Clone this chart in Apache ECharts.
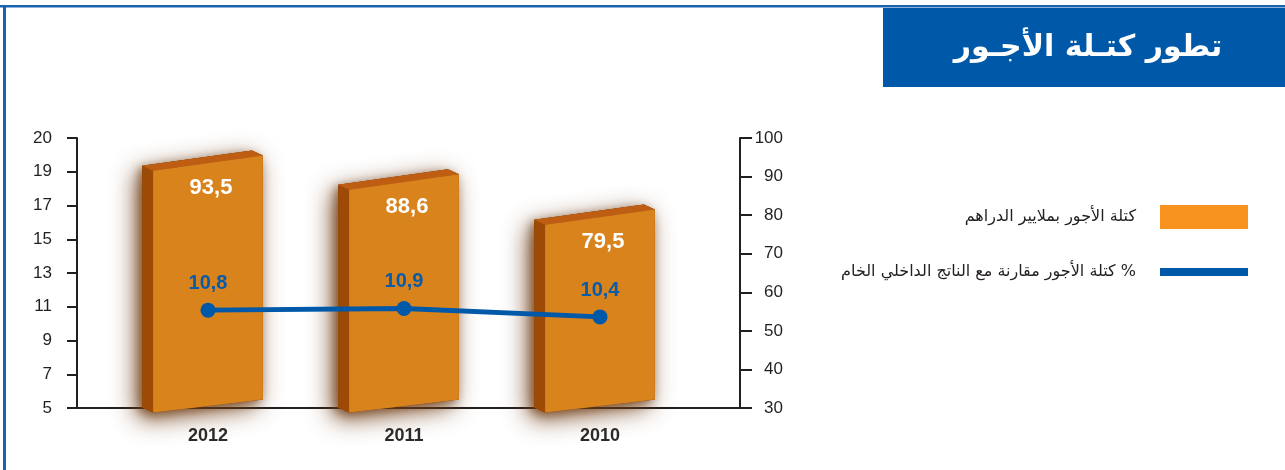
<!DOCTYPE html>
<html><head><meta charset="utf-8">
<script src="https://cdn.jsdelivr.net/npm/echarts@6/dist/echarts.min.js"></script>
<style>html,body{margin:0;padding:0;background:#fff}#c{width:1285px;height:470px}</style>
</head><body><div id="c"></div>
<script>
const titleText = 'تطور كتـلة الأجـور';
const years = ['2012', '2011', '2010'];
const wageBill = [93.5, 88.6, 79.5];            // right axis, bars
const wageShare = [10.8, 10.9, 10.4];           // left axis, line
const leftTickLabels = ['5', '7', '9', '11', '13', '15', '17', '19', '20'];
const barName = 'كتلة الأجور بملايير الدراهم';
const lineName = 'كتلة الأجور مقارنة مع الناتج الداخلي الخام %';

const comma = v => String(v).replace('.', ',');
const axisColor = '#231F20';
const numFont = '"Liberation Sans", Arial, sans-serif';

const chart = echarts.init(document.getElementById('c'));

function renderBar(params, api) {
  const idx = api.value(0), val = api.value(1);
  const top = api.coord([idx, val]);
  const base = api.coord([idx, 30]);
  const band = api.size([1, 0])[0];
  const hw = band * 0.28;
  const sk = hw * 0.14;
  const dx = -11, dy = -5;
  const cx = top[0], ty = top[1], by = base[1] - 2;
  const FL = [cx - hw, ty + sk], FR = [cx + hw, ty - sk];
  const BR = [cx + hw, by - sk * 0.85], BL = [cx - hw, by + sk * 0.85];
  const mv = p => [p[0] + dx, p[1] + dy];
  return {
    type: 'group',
    children: [
      { type: 'polygon', shape: { points: [mv(FL), mv(FR), FR, BR, BL, mv(BL)] },
        style: { fill: '#8a4e1c', shadowBlur: 24, shadowColor: 'rgba(110,60,20,0.85)', shadowOffsetX: -6, shadowOffsetY: 7 } },
      { type: 'polygon', shape: { points: [mv(FL), mv(FR), FR, BR, BL, mv(BL)] },
        style: { fill: '#8a4e1c', shadowBlur: 10, shadowColor: 'rgba(110,60,20,0.6)', shadowOffsetX: -3, shadowOffsetY: 3 } },
      { type: 'polygon', shape: { points: [FL, mv(FL), mv(BL), BL] }, style: { fill: '#9C4A06' } },
      { type: 'polygon', shape: { points: [FL, FR, mv(FR), mv(FL)] }, style: { fill: '#BF5E12' } },
      { type: 'polygon', shape: { points: [FL, FR, BR, BL] }, style: { fill: '#D9831D' } },
      { type: 'text', x: cx + 3, y: ty + 25,
        style: { text: comma(val), fill: '#fff', font: 'bold 22px ' + numFont, align: 'center', verticalAlign: 'middle' } }
    ]
  };
}

chart.setOption({
  animation: false,
  backgroundColor: '#fff',
  grid: [
    { left: 110, width: 588, top: 138, height: 270 },
    { left: 77, right: 545, top: 138, height: 270 }
  ],
  xAxis: [
    { type: 'category', gridIndex: 0, data: years,
      axisLine: { show: false }, axisTick: { show: false },
      axisLabel: { margin: 19, color: '#2b2b2b', fontSize: 18, fontWeight: 'bold', fontFamily: numFont } },
    { type: 'value', gridIndex: 1, min: 0, max: 1,
      axisLine: { show: true, lineStyle: { color: axisColor, width: 2 } },
      axisTick: { show: false }, axisLabel: { show: false }, splitLine: { show: false } }
  ],
  yAxis: [
    { type: 'value', gridIndex: 0, position: 'left', offset: 33, min: 5, max: 21, interval: 2,
      axisLine: { show: true, lineStyle: { color: axisColor, width: 2 } },
      axisTick: { show: true, length: 10, lineStyle: { color: axisColor, width: 2 } },
      axisLabel: { margin: 25, color: axisColor, fontSize: 17, fontFamily: numFont,
        formatter: (v, i) => leftTickLabels[i] },
      splitLine: { show: false } },
    { type: 'value', gridIndex: 0, position: 'right', offset: 42, min: 30, max: 100, interval: 10,
      axisLine: { show: true, lineStyle: { color: axisColor, width: 2 } },
      axisTick: { show: true, length: 12, lineStyle: { color: axisColor, width: 2 } },
      axisLabel: { margin: 43, align: 'right', color: axisColor, fontSize: 17, fontFamily: numFont },
      splitLine: { show: false } },
    { type: 'value', gridIndex: 1, show: false }
  ],
  legend: {
    orient: 'vertical', right: 37, top: 205, align: 'right', padding: 0,
    itemWidth: 88, itemHeight: 24, itemGap: 31, selectedMode: false,
    textStyle: { fontFamily: '"DejaVu Sans", sans-serif', fontSize: 16, color: '#231F20', lineHeight: 24, padding: [0, 19, 0, 0] },
    data: [
      { name: barName, icon: 'rect', itemStyle: { color: '#F7931E', borderWidth: 0 } },
      { name: lineName, icon: 'path://M0,0H88V8H0Z', itemStyle: { color: '#0058A8', borderWidth: 0 } }
    ]
  },
  series: [
    { name: barName, type: 'custom', xAxisIndex: 0, yAxisIndex: 1,
      itemStyle: { color: '#F7931E' },
      renderItem: renderBar,
      data: wageBill.map((v, i) => [i, v]), z: 2 },
    { name: lineName, type: 'line', xAxisIndex: 0, yAxisIndex: 0,
      data: wageShare, z: 5,
      symbol: 'circle', symbolSize: 15,
      lineStyle: { color: '#0058A8', width: 5 },
      itemStyle: { color: '#0058A8' },
      label: { show: true, position: 'top', distance: 9, color: '#0A5BAA', fontSize: 20, fontWeight: 'bold',
        fontFamily: numFont, formatter: p => comma(p.value) } }
  ],
  graphic: [
    { type: 'rect', shape: { x: 0, y: 5, width: 1285, height: 2.5 }, style: { fill: '#1A62AE' }, silent: true },
    { type: 'rect', shape: { x: 3, y: 5, width: 3, height: 465 }, style: { fill: '#1A62AE' }, silent: true },
    { type: 'rect', shape: { x: 883, y: 8, width: 402, height: 79 }, style: { fill: '#0058A8' }, silent: true },
    { type: 'text', x: 1088, y: 48, silent: true,
      style: { text: titleText, fill: '#fff', font: 'bold 30px "DejaVu Sans", sans-serif', align: 'center', verticalAlign: 'middle' } }
  ]
});
</script></body></html>
